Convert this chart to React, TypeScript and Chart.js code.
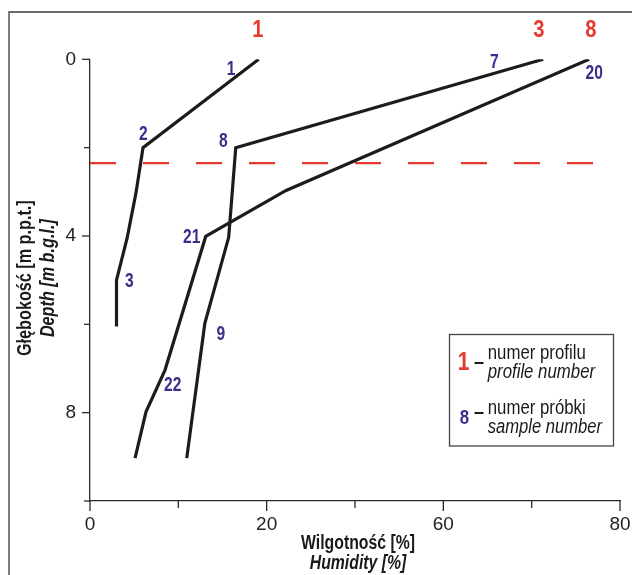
import React, { useEffect, useRef } from "react";
import { Chart, registerables } from "chart.js";

Chart.register(...registerables);

// ---- data (humidity %, depth m) ----
const profile1Humidity = [19.1, 6.0, 5.2, 4.2, 3.0, 3.0];
const profile1Depth = [0, 2.0, 3.03, 4.05, 5.0, 6.05];
const profile3Humidity = [51.3, 16.5, 15.7, 13.0, 10.95];
const profile3Depth = [0, 2.0, 4.03, 5.98, 9.03];
const profile8Humidity = [56.5, 22.2, 13.1, 8.5, 6.34, 5.1];
const profile8Depth = [0, 2.97, 4.01, 7.03, 7.98, 9.03];
const waterTableDepth = 2.35;
const waterTableExtent = [0, 57];

// ---- ticks ----
const xTickValues = [0, 10, 20, 30, 40, 50, 60];
const xTickLabels = ["0", "", "20", "", "60", "", "80"];
const yTickValues = [0, 2, 4, 6, 8, 10];
const yTickLabels = ["0", "", "4", "", "8", ""];

// ---- annotations ----
const profileNames = ["1", "3", "8"];
const profileLabelX = [19.0, 50.8, 56.7];
const profileLabelY = [-0.66, -0.66, -0.66];
const sampleNames = ["1", "2", "3", "8", "21", "9", "22", "7", "20"];
const sampleLabelX = [15.96, 6.03, 4.45, 15.09, 11.51, 14.8, 9.36, 45.77, 57.09];
const sampleLabelY = [0.24, 1.71, 5.03, 1.87, 4.03, 6.24, 7.39, 0.08, 0.32];

const FONT = "'Liberation Sans', Arial, sans-serif";
const RED = "#e63a2e";
const BLUE = "#3b2e8c";
const LINE = "#1c1c1c";
const AXIS = "#2a2a2a";
const TEXT = "#1a1a1a";

export default function App() {
  const ref = useRef<HTMLCanvasElement>(null);

  useEffect(() => {
    const canvas = ref.current;
    if (!canvas) return;
    const mk = (xs: number[], ys: number[]) => xs.map((x, i) => ({ x, y: ys[i] }));

    const overlay = {
      id: "overlay",
      afterDraw(chart: any) {
        const ctx = chart.ctx as CanvasRenderingContext2D;
        const xs = chart.scales.x;
        const ys = chart.scales.y;
        const area = chart.chartArea;
        const line = (x1: number, y1: number, x2: number, y2: number) => {
          ctx.beginPath();
          ctx.moveTo(x1, y1);
          ctx.lineTo(x2, y2);
          ctx.stroke();
        };
        const text = (
          s: string,
          x: number,
          y: number,
          font: string,
          color: string,
          sx: number,
          align: CanvasTextAlign = "center"
        ) => {
          ctx.save();
          ctx.translate(x, y);
          ctx.scale(sx, 1);
          ctx.font = font;
          ctx.fillStyle = color;
          ctx.textAlign = align;
          ctx.textBaseline = "middle";
          ctx.fillText(s, 0, 0);
          ctx.restore();
        };
        ctx.save();
        // outer frame
        ctx.strokeStyle = "#3a3a3a";
        ctx.lineWidth = 1.3;
        ctx.beginPath();
        ctx.moveTo(9, 575);
        ctx.lineTo(9, 12);
        ctx.lineTo(632, 12);
        ctx.stroke();

        // ticks
        ctx.strokeStyle = AXIS;
        ctx.lineWidth = 1.3;
        xTickValues.forEach((v, i) => {
          const px = xs.getPixelForValue(v);
          line(px, area.bottom, px, area.bottom + (xTickLabels[i] ? 10 : 7));
        });
        yTickValues.forEach((v, i) => {
          const py = ys.getPixelForValue(v);
          line(area.left, py, area.left - (yTickLabels[i] ? 8 : 6), py);
        });

        // axis titles
        const cx = (area.left + area.right) / 2 + 3;
        text("Wilgotność [%]", cx, 543, `bold 20px ${FONT}`, TEXT, 0.79);
        text("Humidity [%]", cx, 563, `italic bold 20px ${FONT}`, TEXT, 0.79);
        const cy = (area.top + area.bottom) / 2 - 2;
        ctx.save();
        ctx.translate(25, cy);
        ctx.rotate(-Math.PI / 2);
        text("Głębokość [m p.p.t.]", 0, 0, `bold 20px ${FONT}`, TEXT, 0.81);
        ctx.restore();
        ctx.save();
        ctx.translate(48, cy);
        ctx.rotate(-Math.PI / 2);
        text("Depth [m b.g.l.]", 0, 0, `italic bold 20px ${FONT}`, TEXT, 0.81);
        ctx.restore();

        // profile & sample labels
        profileNames.forEach((s, i) => {
          text(s, xs.getPixelForValue(profileLabelX[i]), ys.getPixelForValue(profileLabelY[i]), `bold 24px ${FONT}`, RED, 0.84);
        });
        sampleNames.forEach((s, i) => {
          text(s, xs.getPixelForValue(sampleLabelX[i]), ys.getPixelForValue(sampleLabelY[i]), `bold 20px ${FONT}`, BLUE, 0.78);
        });

        // legend box
        ctx.strokeStyle = "#444";
        ctx.lineWidth = 1.3;
        ctx.strokeRect(449.5, 334.5, 164, 111.5);
        text("1", 463.5, 363, `bold 25px ${FONT}`, RED, 0.84);
        text("8", 464.3, 418.5, `bold 21px ${FONT}`, BLUE, 0.8);
        ctx.strokeStyle = TEXT;
        ctx.lineWidth = 2;
        line(474.5, 363, 483.5, 363);
        line(474.5, 413, 483.5, 413);
        text("numer profilu", 487.7, 353, `20px ${FONT}`, TEXT, 0.84, "left");
        text("profile number", 487.7, 372, `italic 20px ${FONT}`, TEXT, 0.84, "left");
        text("numer próbki", 487.7, 408.5, `20px ${FONT}`, TEXT, 0.84, "left");
        text("sample number", 487.7, 427, `italic 20px ${FONT}`, TEXT, 0.83, "left");
        ctx.restore();
      },
    };

    const lineDs = (data: any[]) => ({
      data,
      showLine: true,
      borderColor: LINE,
      borderWidth: 3.2,
      pointRadius: 0,
      fill: false,
      tension: 0,
    });

    const chart = new Chart(canvas, {
      type: "scatter",
      data: {
        datasets: [
          lineDs(mk(profile1Humidity, profile1Depth)),
          lineDs(mk(profile3Humidity, profile3Depth)),
          lineDs(mk(profile8Humidity, profile8Depth)),
          {
            data: waterTableExtent.map((x) => ({ x, y: waterTableDepth })),
            showLine: true,
            borderColor: RED,
            borderWidth: 2.2,
            borderDash: [26, 27],
            pointRadius: 0,
            fill: false,
          },
        ],
      },
      options: {
        animation: false,
        responsive: false,
        events: [],
        layout: { padding: { top: 59.3, right: 12, left: 0, bottom: 0 } },
        plugins: {
          legend: { display: false },
          tooltip: { enabled: false },
          title: { display: false },
        },
        scales: {
          x: {
            type: "linear",
            position: "bottom",
            min: 0,
            max: 60,
            afterBuildTicks: (scale: any) => {
              scale.ticks = xTickValues.map((value) => ({ value }));
            },
            afterFit: (scale: any) => {
              scale.height = 74;
              scale.paddingLeft = 0;
              scale.paddingRight = 0;
            },
            ticks: {
              autoSkip: false,
              maxRotation: 0,
              padding: 12,
              color: "#222",
              font: { family: FONT, size: 19 },
              callback: (_v: any, i: number) => xTickLabels[i],
            },
            grid: { display: true, drawOnChartArea: false, drawTicks: false },
            border: { display: true, color: AXIS, width: 1.3 },
          },
          y: {
            type: "linear",
            position: "left",
            reverse: true,
            min: 0,
            max: 10,
            afterBuildTicks: (scale: any) => {
              scale.ticks = yTickValues.map((value) => ({ value }));
            },
            afterFit: (scale: any) => {
              scale.width = 90;
              scale.paddingTop = 0;
              scale.paddingBottom = 0;
            },
            ticks: {
              autoSkip: false,
              padding: 14,
              color: "#222",
              font: { family: FONT, size: 19 },
              callback: (_v: any, i: number) => yTickLabels[i],
            },
            grid: { display: true, drawOnChartArea: false, drawTicks: false },
            border: { display: true, color: AXIS, width: 1.3 },
          },
        },
      },
      plugins: [overlay],
    });
    return () => chart.destroy();
  }, []);

  return (
    <div style={{ position: "absolute", left: 0, top: 0, width: 632, height: 575, background: "#fff" }}>
      <canvas ref={ref} width={632} height={575} style={{ display: "block" }} />
    </div>
  );
}
